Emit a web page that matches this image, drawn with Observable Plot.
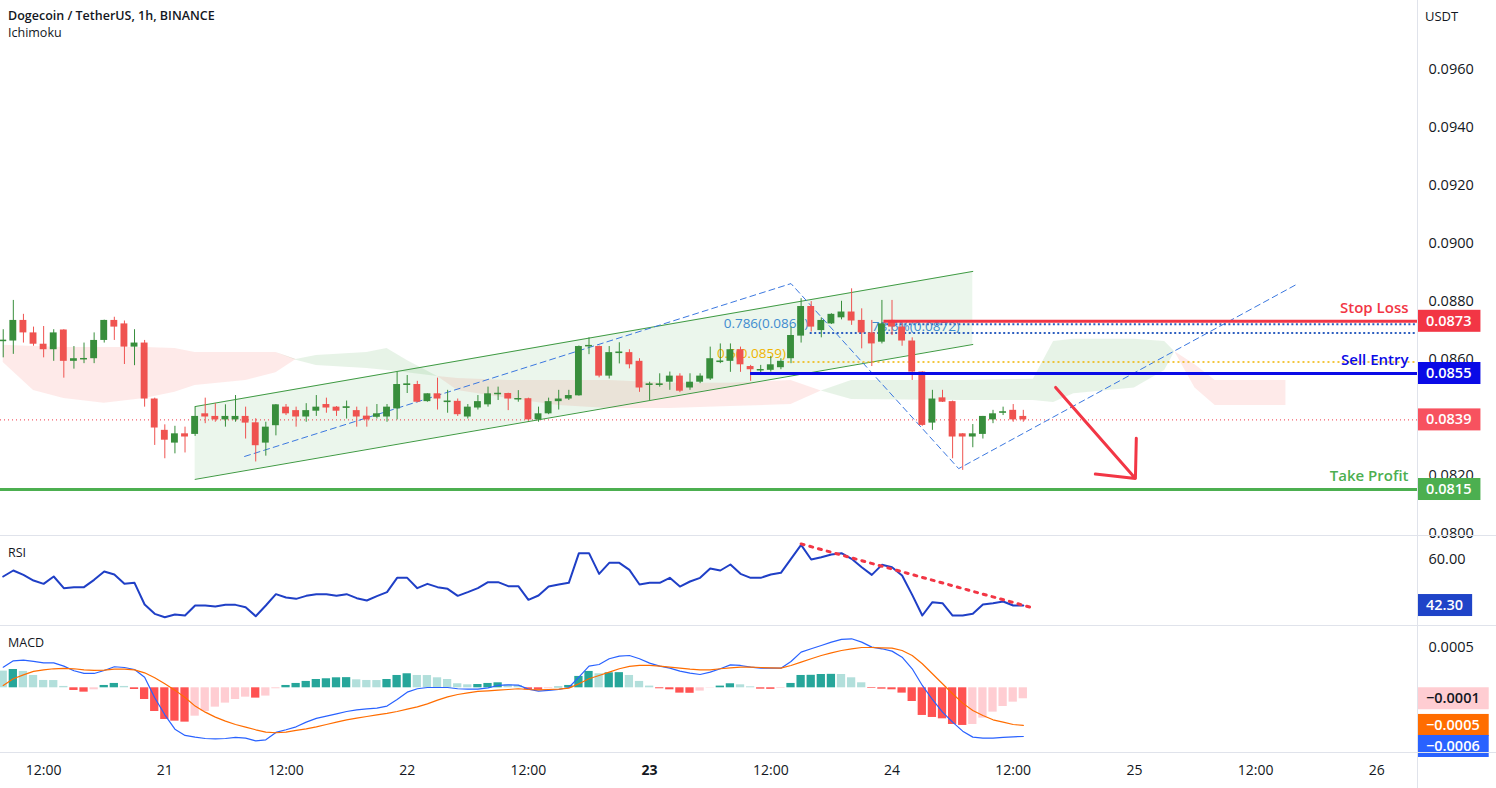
<!DOCTYPE html>
<html><head><meta charset="utf-8">
<script src="https://cdn.jsdelivr.net/npm/d3@7"></script>
<script src="https://cdn.jsdelivr.net/npm/@observablehq/plot@0.6"></script>
<style>
html,body{margin:0;padding:0;background:#fff;}
#wrap{position:relative;width:1496px;height:788px;overflow:hidden;font-family:"Open Sans",sans-serif;color:#131722;}
.pane{position:absolute;left:0;}
.sep{position:absolute;left:0;width:1496px;height:1px;background:#e0e3eb;}
.vsep{position:absolute;top:0;left:1417px;width:1px;height:788px;background:#e0e3eb;}
.lbl{position:absolute;left:8px;font-size:12.5px;white-space:nowrap;}
</style></head><body><div id="wrap"></div>
<script>
// ---------------- DATA ----------------
const startTime = "2023-01-20T08:00:00Z"; // first hourly candle
const opens  = [.08662,.08662,.08733,.08690,.08651,.08632,.08700,.08592,.08599,.08601,.08664,.08733,.08721,.08641,.08655,.08462,.08354,.08310,.08342,.08340,.08411,.08402,.08390,.08390,.08402,.08380,.08310,.08370,.08434,.08422,.08400,.08420,.08443,.08434,.08432,.08422,.08403,.08399,.08400,.08428,.08511,.08512,.08453,.08480,.08453,.08454,.08400,.08431,.08442,.08479,.08481,.08461,.08463,.08390,.08411,.08453,.08462,.08473,.08645,.08643,.08541,.08622,.08622,.08592,.08511,.08511,.08520,.08541,.08500,.08520,.08531,.08591,.08592,.08632,.08574,.08562,.08561,.08570,.08601,.08679,.08781,.08698,.08721,.08742,.08762,.08733,.08690,.08658,.08733,.08710,.08662,.08555,.08379,.08466,.08453,.08342,.08331,.08340,.08390,.08416,.08423,.08402];
const highs  = [.08701,.08802,.08754,.08710,.08712,.08701,.08701,.08643,.08655,.08690,.08734,.08744,.08731,.08701,.08664,.08465,.08373,.08368,.08365,.08434,.08465,.08446,.08442,.08474,.08434,.08394,.08382,.08443,.08443,.08434,.08446,.08474,.08465,.08436,.08455,.08434,.08434,.08443,.08443,.08554,.08543,.08523,.08480,.08534,.08492,.08462,.08443,.08474,.08503,.08503,.08482,.08491,.08465,.08434,.08465,.08492,.08492,.08645,.08673,.08645,.08643,.08656,.08632,.08601,.08520,.08549,.08555,.08549,.08549,.08549,.08641,.08652,.08652,.08641,.08578,.08578,.08609,.08601,.08710,.08808,.08798,.08742,.08756,.08799,.08842,.08773,.08733,.08802,.08802,.08721,.08673,.08556,.08492,.08492,.08455,.08343,.08374,.08402,.08423,.08434,.08443,.08423];
const lows   = [.08604,.08616,.08655,.08644,.08604,.08592,.08534,.08565,.08584,.08584,.08655,.08664,.08581,.08577,.08434,.08302,.08256,.08273,.08276,.08333,.08377,.08382,.08365,.08382,.08324,.08245,.08265,.08335,.08405,.08365,.08382,.08402,.08413,.08402,.08393,.08365,.08365,.08393,.08382,.08390,.08481,.08449,.08451,.08424,.08413,.08402,.08393,.08424,.08434,.08457,.08422,.08451,.08385,.08382,.08408,.08424,.08457,.08472,.08615,.08535,.08531,.08583,.08566,.08485,.08457,.08503,.08492,.08484,.08492,.08515,.08526,.08584,.08554,.08554,.08523,.08549,.08555,.08563,.08584,.08655,.08693,.08673,.08719,.08735,.08716,.08635,.08574,.08652,.08681,.08644,.08526,.08368,.08354,.08450,.08256,.08216,.08294,.08324,.08377,.08405,.08382,.08382];
const closes = [.08664,.08733,.08690,.08651,.08632,.08690,.08592,.08601,.08601,.08664,.08733,.08710,.08641,.08655,.08462,.08362,.08320,.08342,.08331,.08402,.08400,.08390,.08402,.08402,.08379,.08301,.08365,.08442,.08411,.08400,.08422,.08434,.08431,.08420,.08434,.08400,.08390,.08411,.08434,.08512,.08513,.08451,.08480,.08462,.08454,.08408,.08434,.08453,.08480,.08481,.08462,.08463,.08390,.08411,.08453,.08462,.08474,.08643,.08646,.08541,.08622,.08623,.08580,.08500,.08513,.08513,.08541,.08489,.08520,.08541,.08601,.08592,.08632,.08580,.08563,.08563,.08580,.08592,.08681,.08781,.08710,.08733,.08754,.08762,.08731,.08690,.08652,.08721,.08710,.08662,.08555,.08371,.08462,.08451,.08331,.08331,.08342,.08402,.08411,.08417,.08390,.08390];

// Ichimoku cloud knots (candle index, Senkou span A, Senkou span B)
const cloudIdx = [0,3,6,10,14,17,19,24,27,29,31,36,38,40,43,45,50,55,60,66,72,78,81,84,95,102,104,106,112,115,116,118,120,127];
const spanA = [.08588,.08491,.08464,.08447,.08464,.08485,.08509,.08526,.08553,.08598,.08612,.08622,.08636,.08595,.08540,.08491,.08464,.08440,.08429,.08429,.08436,.08443,.08490,.08526,.08526,.08530,.08660,.08668,.08668,.08660,.08625,.08500,.08440,.08440];
const spanB = [.08647,.08643,.08640,.08640,.08640,.08636,.08622,.08622,.08622,.08596,.08578,.08567,.08560,.08553,.08540,.08533,.08526,.08526,.08526,.08516,.08516,.08526,.08490,.08460,.08457,.08457,.08450,.08480,.08500,.08560,.08625,.08580,.08526,.08526];

// RSI(14)
const rsi = [53.46,55.77,54.10,51.92,50.64,53.46,48.97,49.36,49.36,52.18,55.38,54.23,50.64,51.02,42.69,39.10,37.82,38.85,38.46,42.31,42.31,41.92,42.56,42.56,41.67,38.20,42.31,46.67,45.38,44.87,46.02,46.67,46.67,46.02,46.67,45.13,44.23,45.90,47.44,52.95,52.95,48.97,50.64,49.36,48.72,46.02,47.44,48.97,51.28,51.28,49.74,49.74,44.49,46.15,49.61,50.38,51.02,62.44,62.44,54.49,58.72,58.72,56.02,50.38,51.02,51.02,52.95,49.61,51.54,52.95,56.54,55.77,58.08,54.49,52.95,52.95,54.23,54.87,60.26,65.64,60.00,60.90,61.92,62.44,60.26,57.05,54.10,57.95,57.05,53.85,46.41,38.46,43.59,43.20,38.46,38.46,39.10,42.69,43.20,43.85,42.31,42.30];
const rsiTrendIdx = [79, 101.7];
const rsiTrendVal = [66.0, 41.65];

// MACD (values in units of 0.0001)
const macdLine = [2.56,3.35,3.43,3.27,3.10,3.10,2.69,2.11,1.78,1.78,2.15,2.61,2.52,2.27,1.32,-1.24,-3.35,-5.13,-5.91,-6.12,-6.29,-6.33,-6.29,-6.16,-6.24,-6.58,-6.45,-5.54,-5.21,-4.84,-4.26,-3.80,-3.52,-3.23,-2.94,-2.73,-2.61,-2.52,-2.27,-1.45,-0.54,-0.12,0.04,0.04,0.04,-0.12,-0.17,-0.17,0.00,0.29,0.37,0.33,-0.17,-0.41,-0.33,-0.21,0.04,1.32,2.69,2.89,3.60,3.93,4.01,3.60,3.06,2.69,2.44,2.07,1.82,1.65,1.94,2.36,2.85,2.77,2.56,2.44,2.44,2.44,3.27,4.43,4.84,5.25,5.67,6.00,6.08,5.67,5.05,4.84,4.55,3.80,2.36,0.29,-1.45,-3.02,-4.26,-5.38,-6.12,-6.24,-6.24,-6.16,-6.08,-6.04];
const signalLine = [0.29,1.12,1.61,2.03,2.23,2.36,2.40,2.36,2.23,2.15,2.19,2.32,2.32,2.23,1.86,1.24,0.50,-0.29,-1.20,-2.27,-3.02,-3.64,-4.14,-4.55,-4.88,-5.21,-5.50,-5.58,-5.50,-5.29,-5.09,-4.84,-4.55,-4.26,-3.97,-3.76,-3.56,-3.35,-3.18,-2.94,-2.65,-2.36,-1.99,-1.53,-1.12,-0.83,-0.62,-0.45,-0.37,-0.29,-0.21,-0.12,-0.21,-0.25,-0.21,-0.17,-0.04,0.50,1.12,1.53,1.94,2.36,2.65,2.77,2.77,2.69,2.56,2.44,2.32,2.23,2.23,2.36,2.48,2.56,2.56,2.52,2.48,2.44,2.77,3.18,3.60,4.01,4.34,4.63,4.84,5.00,5.00,4.96,4.92,4.63,4.01,2.98,1.74,0.50,-0.74,-1.90,-2.81,-3.43,-3.97,-4.26,-4.55,-4.67];
const histogram = [2.07,2.27,2.03,1.53,0.91,0.90,0.17,-0.33,-0.54,-0.25,0.29,0.54,0.17,-0.21,-1.45,-2.94,-3.93,-4.14,-4.26,-3.52,-2.94,-2.40,-1.90,-1.45,-1.16,-1.28,-1.03,-0.12,0.29,0.54,0.79,1.03,1.12,1.24,1.26,0.99,0.91,0.90,1.03,1.53,1.74,1.53,1.52,1.24,1.03,0.50,0.37,0.41,0.54,0.62,0.37,0.29,-0.25,-0.29,-0.12,0.08,0.29,1.41,2.03,1.74,1.86,1.88,1.53,0.79,0.21,-0.12,-0.25,-0.66,-0.68,-0.41,-0.04,0.21,0.50,0.37,0.12,-0.17,-0.19,-0.08,0.54,1.53,1.55,1.65,1.67,1.65,1.24,0.62,-0.08,-0.17,-0.25,-0.66,-1.70,-3.43,-3.68,-3.85,-4.55,-4.67,-4.55,-3.76,-3.02,-2.32,-1.78,-1.36];

// Trade levels
const levelNames = ["Stop Loss", "Sell Entry", "Take Profit"];
const levelPrices = [0.0873, 0.0855, 0.0815];
const levelStartIdx = [87.2, 74.0, -0.3];
// Fibonacci levels
const fibLabels = ["0.786(0.0869)", "78.6%(0.0872)", "0.5(0.0859)"];
const fibPrices = [0.0869, 0.0872, 0.0859];
const fibStartIdx = [79.9, 86.6, 77.7];
// Channel
const channelIdx = [19, 96];
const channelUpper = [0.08436, 0.08902];
const channelLower = [0.08185, 0.08650];
// ABCD dashed pattern
const patternIdx = [23.9, 78.0, 94.6, 128.2];
const patternPrice = [0.08264, 0.08860, 0.08222, 0.08860];
// Red arrow
const arrowIdx = [104.2, 112.1];
const arrowPrice = [0.08502, 0.08188];

const priceTicks = [0.080,0.082,0.084,0.086,0.088,0.090,0.092,0.094,0.096];
const xTickTimes = ["2023-01-20T12:00Z","2023-01-21T00:00Z","2023-01-21T12:00Z","2023-01-22T00:00Z","2023-01-22T12:00Z","2023-01-23T00:00Z","2023-01-23T12:00Z","2023-01-24T00:00Z","2023-01-24T12:00Z","2023-01-25T00:00Z","2023-01-25T12:00Z","2023-01-26T00:00Z"];
const xTickLabels = ["12:00","21","12:00","22","12:00","23","12:00","24","12:00","25","12:00","26"];

// ---------------- BUILD ----------------
const H = 3600e3, T0 = Date.parse(startTime);
const t = i => new Date(T0 + i * H);
const xDomain = [t(-0.27), t(140.03)];
const UP = "#388e3c", DN = "#ef5350";
const FONT = "'Open Sans', sans-serif";
const W = 1496, MR = 79;
const baseStyle = {background: "transparent", fontFamily: FONT, color: "#131722", overflow: "visible"};

const candles = opens.map((o, i) => ({t: t(i), o, h: highs[i], l: lows[i], c: closes[i], up: closes[i] >= o}));
const cloud = cloudIdx.map((i, k) => ({t: t(i), a: spanA[k], b: spanB[k]}));
const channel = channelIdx.map((i, k) => ({t: t(i), hi: channelUpper[k], lo: channelLower[k]}));
const pattern = patternIdx.map((i, k) => ({t: t(i), p: patternPrice[k]}));
const levels = levelNames.map((n, k) => ({name: n, price: levelPrices[k], from: t(levelStartIdx[k])}));
const levelColors = ["#f23645", "#0a0ae6", "#4caf50"];
const fibs = fibLabels.map((l, k) => ({label: l, price: fibPrices[k], from: t(fibStartIdx[k])}));
const lastClose = closes[closes.length - 1];

const wrap = document.getElementById("wrap");
function addPane(el, top) { el.classList.add("pane"); el.style.top = top + "px"; wrap.appendChild(el); return el; }

const halfBody = 0.34 * H;
const main = Plot.plot({
  width: W, height: 535, marginLeft: 0, marginRight: MR, marginTop: 0, marginBottom: 0,
  style: baseStyle,
  x: {type: "utc", domain: xDomain, axis: null},
  y: {domain: [0.079914, 0.098362]},
  marks: [
    Plot.axisY(priceTicks, {anchor: "right", label: null, tickSize: 0, tickPadding: 11, tickFormat: d3.format(".4f"), fontSize: 14.5, fill: "#131722"}),
    // Ichimoku cloud
    Plot.areaY(cloud, {x: "t", y1: "b", y2: d => Math.max(d.a, d.b), fill: "rgba(67,160,71,0.13)"}),
    Plot.areaY(cloud, {x: "t", y1: "a", y2: d => Math.max(d.a, d.b), fill: "rgba(244,67,54,0.11)"}),
    // channel
    Plot.areaY(channel, {x: "t", y1: "lo", y2: "hi", fill: "rgba(76,175,80,0.11)"}),
    // current price line
    Plot.ruleY([lastClose], {x1: xDomain[0], x2: xDomain[1], stroke: "#f23645", strokeWidth: 1, strokeDasharray: "1,3"}),
    Plot.line(channel, {x: "t", y: "hi", stroke: "#3f9a43", strokeWidth: 1}),
    Plot.line(channel, {x: "t", y: "lo", stroke: "#3f9a43", strokeWidth: 1}),
    Plot.line(pattern, {x: "t", y: "p", stroke: "#3b78e0", strokeWidth: 1, strokeDasharray: "6,4"}),
    // fib levels
    Plot.ruleY(fibs.slice(0, 2), {y: "price", x1: "from", x2: xDomain[1], stroke: "#2d5fc0", strokeWidth: 2, strokeDasharray: "2,2.5"}),
    Plot.ruleY(fibs.slice(2), {y: "price", x1: "from", x2: xDomain[1], stroke: "#f0b400", strokeWidth: 1.5, strokeDasharray: "2,3"}),
    Plot.text(fibs.slice(0, 1), {x: "from", y: "price", text: "label", textAnchor: "end", dx: -2, dy: -9, fill: "#3f8bd0", fontSize: 13.5}),
    Plot.text(fibs.slice(1, 2), {x: "from", y: "price", text: "label", textAnchor: "start", dx: -6, dy: 2, fill: "#3f8bd0", fontSize: 13.5}),
    Plot.text(fibs.slice(2), {x: "from", y: "price", text: "label", textAnchor: "end", dx: -2, dy: -8, fill: "#f0b400", fontSize: 13.5}),
    // candles
    Plot.ruleX(candles, {x: "t", y1: "l", y2: "h", stroke: d => d.up ? UP : DN, strokeWidth: 1}),
    Plot.rect(candles, {x1: d => new Date(+d.t - halfBody), x2: d => new Date(+d.t + halfBody), y1: "o", y2: "c", fill: d => d.up ? UP : DN}),
    Plot.ruleY(candles.filter(d => Math.abs(d.o - d.c) < 0.00004), {y: "c", x1: d => new Date(+d.t - halfBody), x2: d => new Date(+d.t + halfBody), stroke: d => d.up ? UP : DN, strokeWidth: 1.5}),
    // trade levels
    Plot.ruleY(levels, {y: "price", x1: "from", x2: xDomain[1], stroke: (d, k) => levelColors[k], strokeWidth: 3}),
    Plot.text(levels, {y: "price", text: "name", frameAnchor: "right", textAnchor: "end", dx: -9, dy: -13, fill: (d, k) => levelColors[k], fontSize: 15, fontWeight: 600}),
    // arrow
    Plot.arrow([0], {x1: () => t(arrowIdx[0]), y1: () => arrowPrice[0], x2: () => t(arrowIdx[1]), y2: () => arrowPrice[1], stroke: "#f23645", strokeWidth: 3, headLength: 22, headAngle: 85})
  ]
});
addPane(main, 0);

const rsiData = rsi.map((v, i) => ({t: t(i), v}));
const rsiTrend = rsiTrendIdx.map((i, k) => ({t: t(i), v: rsiTrendVal[k]}));
const rsiPlot = Plot.plot({
  width: W, height: 89, marginLeft: 0, marginRight: MR, marginTop: 0, marginBottom: 0,
  style: baseStyle,
  x: {type: "utc", domain: xDomain, axis: null},
  y: {domain: [34.62, 68.85]},
  marks: [
    Plot.axisY([60], {anchor: "right", label: null, tickSize: 0, tickPadding: 11, tickFormat: d => d.toFixed(2), fontSize: 14.5, fill: "#131722"}),
    Plot.line(rsiData, {x: "t", y: "v", stroke: "#1f3fc6", strokeWidth: 2}),
    Plot.line(rsiTrend, {x: "t", y: "v", stroke: "#f23645", strokeWidth: 3, strokeDasharray: "3,6"})
  ]
});
addPane(rsiPlot, 536);

const E4 = 1e-4;
const macdData = macdLine.map((v, i) => ({t: t(i), m: v * E4, s: signalLine[i] * E4, h: histogram[i] * E4,
  col: histogram[i] >= 0 ? (i > 0 && histogram[i] > histogram[i - 1] ? "#26a69a" : "#b2dfdb")
                         : (i > 0 && histogram[i] < histogram[i - 1] ? "#ff5252" : "#ffcdd2")}));
const halfBar = 0.41 * H;
const macdPlot = Plot.plot({
  width: W, height: 126, marginLeft: 0, marginRight: MR, marginTop: 0, marginBottom: 0,
  style: baseStyle,
  x: {type: "utc", domain: xDomain, axis: null},
  y: {domain: [-0.0008027, 0.0007605]},
  marks: [
    Plot.axisY([0.0005], {anchor: "right", label: null, tickSize: 0, tickPadding: 11, tickFormat: d3.format(".4f"), fontSize: 14.5, fill: "#131722"}),
    Plot.rectY(macdData, {x1: d => new Date(+d.t - halfBar), x2: d => new Date(+d.t + halfBar), y1: 0, y2: "h", fill: "col"}),
    Plot.line(macdData, {x: "t", y: "m", stroke: "#2962ff", strokeWidth: 1.2}),
    Plot.line(macdData, {x: "t", y: "s", stroke: "#ff6d00", strokeWidth: 1.2})
  ]
});
addPane(macdPlot, 626);

const xticks = xTickTimes.map((s, k) => ({t: new Date(s), label: xTickLabels[k]}));
const axisPlot = Plot.plot({
  width: W, height: 35, marginLeft: 0, marginRight: MR, marginTop: 0, marginBottom: 0,
  style: baseStyle,
  x: {type: "utc", domain: xDomain, axis: null},
  marks: [
    Plot.text(xticks.filter(d => d.label !== "23"), {x: "t", text: "label", frameAnchor: "middle", fontSize: 14, fill: "#131722"}),
    Plot.text(xticks.filter(d => d.label === "23"), {x: "t", text: "label", frameAnchor: "middle", fontSize: 14, fontWeight: 700, fill: "#131722"})
  ]
});
addPane(axisPlot, 753);

// separators
[535, 625, 752].forEach(y => { const d = document.createElement("div"); d.className = "sep"; d.style.top = y + "px"; wrap.appendChild(d); });
const v = document.createElement("div"); v.className = "vsep"; wrap.appendChild(v);

// price tags on the right scale
function tag(plot, value, text, bg, fg, dy = 0) {
  const y = plot.scale("y").apply(value) + dy;
  const g = d3.select(plot).append("g").attr("text-anchor", "start");
  const rect = g.append("rect");
  const tx = g.append("text").attr("x", 1426).attr("y", y).attr("dy", "0.35em").attr("text-anchor", "start")
    .attr("fill", fg).attr("font-size", 14.5).attr("font-weight", 600).attr("font-family", FONT).text(text);
  const w = tx.node().getComputedTextLength();
  rect.attr("x", 1418).attr("y", y - 11).attr("width", w + 17).attr("height", 22).attr("fill", bg);
}
const f4 = v => d3.format(".4f")(v).replace("-", "\u2212");
tag(main, levelPrices[0], f4(levelPrices[0]), "#f23645", "#fff");
tag(main, levelPrices[1], f4(levelPrices[1]), "#0a0ae6", "#fff");
tag(main, lastClose, f4(lastClose), "#f7525f", "#fff");
tag(main, levelPrices[2], f4(levelPrices[2]), "#4caf50", "#fff");
tag(rsiPlot, rsi[rsi.length - 1], rsi[rsi.length - 1].toFixed(2), "#1f44c8", "#fff");
const last = macdData[macdData.length - 1];
tag(macdPlot, last.h, f4(last.h), "#ffcdd2", "#131722");
tag(macdPlot, last.s, f4(last.s), "#ff6d00", "#fff");
tag(macdPlot, last.m, f4(last.m), "#2962ff", "#fff", 10);

// headers
function lbl(text, top, weight, size) { const d = document.createElement("div"); d.className = "lbl"; d.style.top = top + "px"; d.style.fontWeight = weight; if (size) d.style.fontSize = size + "px"; d.textContent = text; wrap.appendChild(d); }
lbl("Dogecoin / TetherUS, 1h, BINANCE", 7, 600);
lbl("Ichimoku", 24, 400);
lbl("RSI", 544, 400);
lbl("MACD", 634, 400);
const u = document.createElement("div"); u.className = "lbl"; u.style.left = "1425px"; u.style.top = "7px"; u.style.fontSize = "13px"; u.textContent = "USDT"; wrap.appendChild(u);
</script></body></html>
